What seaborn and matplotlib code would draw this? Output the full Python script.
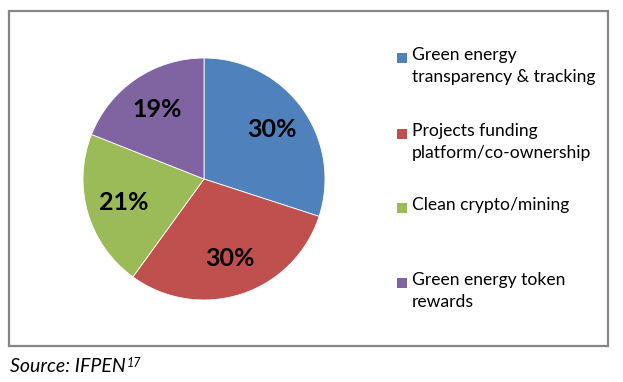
import matplotlib
matplotlib.use("Agg")
import matplotlib.pyplot as plt
import seaborn as sns
from matplotlib.patches import Rectangle

categories = ["Green energy\ntransparency & tracking",
              "Projects funding\nplatform/co-ownership",
              "Clean crypto/mining",
              "Green energy token\nrewards"]
values = [30, 30, 21, 19]
pct_labels = ["30%", "30%", "21%", "19%"]
colors = ["#4F81BD", "#C0504D", "#9BBB59", "#8064A2"]

sns.set_theme(style="white")
plt.rcParams['font.family'] = ['Lato', 'DejaVu Sans']

W, H = 623, 382
fig = plt.figure(figsize=(W / 100, H / 100), dpi=100)

# border
fig.patches.append(Rectangle((9 / W, 1 - 346 / H), (608 - 9) / W, (346 - 11) / H,
                             transform=fig.transFigure, fill=False,
                             edgecolor="#868686", linewidth=1.6))

cx, cy, r = 204, 179, 121
ax = fig.add_axes([(cx - r) / W, (H - cy - r) / H, 2 * r / W, 2 * r / H])
wedges, texts = ax.pie(values, colors=colors, startangle=90, counterclock=False,
                       labels=pct_labels, labeldistance=0.69,
                       wedgeprops=dict(linewidth=0.6, edgecolor="white"),
                       textprops=dict(fontsize=18, fontweight="bold", color="black",
                                      ha="center", va="center"))
for t in texts:
    t.set_ha("center")
ax.set_aspect("equal")
ax.set_xlim(-1, 1)
ax.set_ylim(-1, 1)

# legend (manual)
leg_y = [58, 134, 208, 283]
for lab, col, yy in zip(categories, colors, leg_y):
    fig.patches.append(Rectangle((397 / W, 1 - (yy + 5) / H), 10 / W, 10 / H,
                                 transform=fig.transFigure, facecolor=col,
                                 edgecolor="none"))
    fig.text(412 / W, 1 - (yy - 11) / H, lab, fontsize=12.6, va="top", ha="left",
             linespacing=1.45, color="black")

src = fig.text(10 / W, 1 - 372 / H, "Source: IFPEN", fontsize=14, style="italic",
               va="baseline", ha="left", color="black")
fig.canvas.draw()
bb = src.get_window_extent(fig.canvas.get_renderer())
fig.text((bb.x1 + 1) / W, (bb.y1 + 1) / H, "17", fontsize=9, style="italic",
         va="top", ha="left", color="black")

fig.savefig("out.png", dpi=100)
